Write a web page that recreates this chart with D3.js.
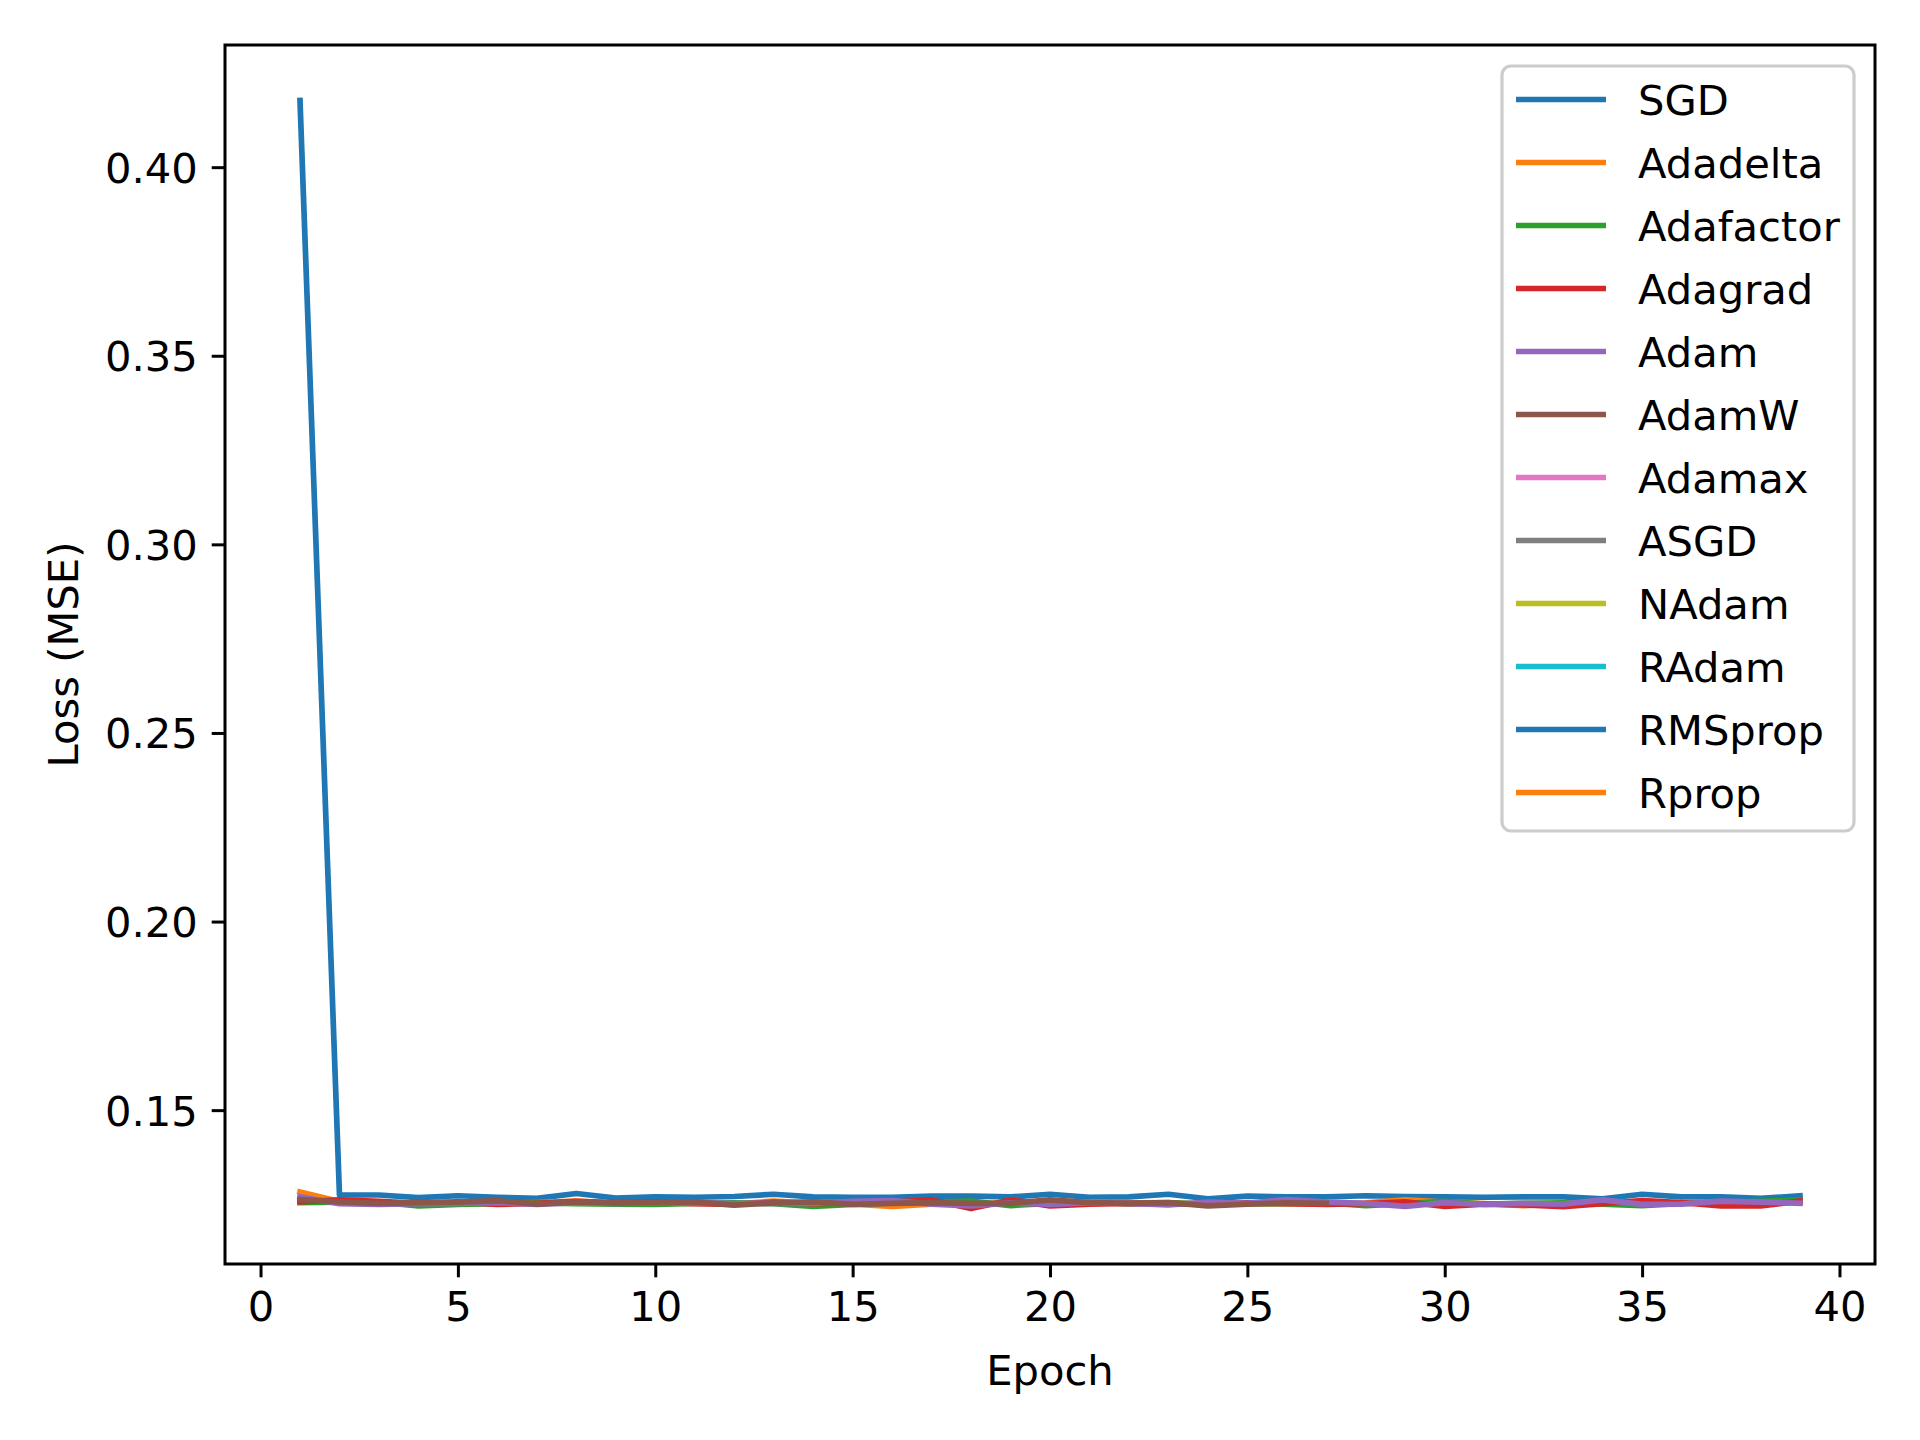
<!DOCTYPE html>
<html>
<head>
<meta charset="utf-8">
<script src="https://cdn.jsdelivr.net/npm/d3@7"></script>
<style>
  html, body { margin: 0; padding: 0; background: #fff; }
  svg { display: block; }
  text { font-family: "DejaVu Sans", sans-serif; fill: #000; }
</style>
</head>
<body>
<svg id="chart" width="1920" height="1440"></svg>
<script>
// ---- data ----
const names = ["SGD", "Adadelta", "Adafactor", "Adagrad", "Adam", "AdamW",
               "Adamax", "ASGD", "NAdam", "RAdam", "RMSprop", "Rprop"];
const colors = ["#1f77b4", "#ff7f0e", "#2ca02c", "#d62728", "#9467bd", "#8c564b",
                "#e377c2", "#7f7f7f", "#bcbd22", "#17becf", "#1f77b4", "#ff7f0e"];

const sgd = [0.4177, 0.1275, 0.1275, 0.1268, 0.1273, 0.1269, 0.1266, 0.1279, 0.1267, 0.1270,
             0.1269, 0.1271, 0.1277, 0.1270, 0.1269, 0.1269, 0.1272, 0.1272, 0.1270, 0.1277,
             0.1269, 0.1270, 0.1277, 0.1265, 0.1272, 0.1270, 0.1270, 0.1273, 0.1271, 0.1270,
             0.1269, 0.1270, 0.1270, 0.1265, 0.1277, 0.1270, 0.1270, 0.1266, 0.1273];
const adadelta = [0.1283, 0.1258, 0.1255, 0.1253, 0.1254, 0.1253, 0.1255, 0.1259, 0.1253, 0.1252,
                  0.1254, 0.1251, 0.1259, 0.1253, 0.1251, 0.1245, 0.1251, 0.1253, 0.1252, 0.1258,
                  0.1256, 0.1254, 0.1255, 0.1250, 0.1252, 0.1253, 0.1251, 0.1254, 0.1262, 0.1256,
                  0.1252, 0.1247, 0.1253, 0.1254, 0.1252, 0.1255, 0.1253, 0.1254, 0.1256];
const adafactor = [0.1255, 0.1256, 0.1256, 0.1246, 0.1250, 0.1252, 0.1254, 0.1252, 0.1251, 0.1250,
                   0.1253, 0.1254, 0.1252, 0.1245, 0.1250, 0.1254, 0.1256, 0.1259, 0.1247, 0.1253,
                   0.1255, 0.1252, 0.1254, 0.1251, 0.1253, 0.1252, 0.1254, 0.1247, 0.1252, 0.1258,
                   0.1251, 0.1253, 0.1254, 0.1251, 0.1247, 0.1253, 0.1255, 0.1258, 0.1262];
const adagrad = [0.1257, 0.1262, 0.1258, 0.1253, 0.1257, 0.1250, 0.1253, 0.1258, 0.1254, 0.1256,
                 0.1252, 0.1250, 0.1256, 0.1252, 0.1254, 0.1256, 0.1262, 0.1239, 0.1262, 0.1246,
                 0.1251, 0.1253, 0.1252, 0.1250, 0.1254, 0.1252, 0.1250, 0.1252, 0.1257, 0.1245,
                 0.1251, 0.1249, 0.1244, 0.1252, 0.1260, 0.1255, 0.1246, 0.1246, 0.1259];
const adam = [0.1270, 0.1252, 0.1250, 0.1252, 0.1253, 0.1255, 0.1250, 0.1255, 0.1253, 0.1254,
              0.1255, 0.1252, 0.1253, 0.1253, 0.1258, 0.1260, 0.1251, 0.1246, 0.1254, 0.1250,
              0.1255, 0.1253, 0.1249, 0.1256, 0.1253, 0.1263, 0.1256, 0.1253, 0.1245, 0.1255,
              0.1250, 0.1253, 0.1251, 0.1262, 0.1250, 0.1251, 0.1259, 0.1256, 0.1253];
const adamw = [0.1263, 0.1257, 0.1253, 0.1255, 0.1256, 0.1260, 0.1251, 0.1257, 0.1254, 0.1255,
               0.1257, 0.1248, 0.1254, 0.1257, 0.1250, 0.1253, 0.1255, 0.1253, 0.1253, 0.1262,
               0.1255, 0.1253, 0.1255, 0.1246, 0.1251, 0.1254, 0.1253];
const adamax = [], asgd = [], nadam = [], radam = [], rmsprop = [], rprop = [];

const seriesValues = [sgd, adadelta, adafactor, adagrad, adam, adamw,
                      adamax, asgd, nadam, radam, rmsprop, rprop];
const xTicks = [0, 5, 10, 15, 20, 25, 30, 35, 40];
const yTicks = [0.15, 0.20, 0.25, 0.30, 0.35, 0.40];
const xLabel = "Epoch";
const yLabel = "Loss (MSE)";

// ---- layout ----
const L = 225, R = 1875, T = 45, B = 1264;
const svg = d3.select("#chart");

const allPts = seriesValues.flatMap(s => s.map((v, i) => ({x: i + 1, y: v})));
const xExt = d3.extent(allPts, d => d.x), yExt = d3.extent(allPts, d => d.y);
const xm = (xExt[1] - xExt[0]) * 0.05, ym = (yExt[1] - yExt[0]) * 0.05;
const x = d3.scaleLinear().domain([xExt[0] - xm, xExt[1] + xm]).range([L, R]);
const y = d3.scaleLinear().domain([yExt[0] - ym, yExt[1] + ym]).range([B, T]);

svg.append("defs").append("clipPath").attr("id", "clip")
  .append("rect").attr("x", L).attr("y", T).attr("width", R - L).attr("height", B - T);

// lines
const line = d3.line().x((d, i) => x(i + 1)).y(d => y(d));
const gLines = svg.append("g").attr("clip-path", "url(#clip)");
seriesValues.forEach((s, k) => {
  if (!s.length) return;
  gLines.append("path")
    .attr("d", line(s))
    .attr("fill", "none")
    .attr("stroke", colors[k])
    .attr("stroke-width", 5.7)
    .attr("stroke-linejoin", "round")
    .attr("stroke-linecap", "square");
});

// axes
const FS = 41.67;
const xAxis = d3.axisBottom(x).tickValues(xTicks).tickFormat(d3.format("d"))
  .tickSize(13.3).tickPadding(12);
const yAxis = d3.axisLeft(y).tickValues(yTicks).tickFormat(d3.format(".2f"))
  .tickSize(13.3).tickPadding(14);

const gx = svg.append("g").attr("transform", `translate(0,${B})`).call(xAxis);
const gy = svg.append("g").attr("transform", `translate(${L},0)`).call(yAxis);
[gx, gy].forEach(g => {
  g.select(".domain").remove();
  g.selectAll(".tick line").attr("stroke", "#000").attr("stroke-width", 3);
  g.selectAll(".tick text").attr("font-size", FS).attr("font-family", "DejaVu Sans").attr("fill", "#000");
});
gx.selectAll(".tick text").attr("dy", "0.76em");
gy.selectAll(".tick text").attr("dy", "0.36em");

// frame
svg.append("rect").attr("x", L).attr("y", T).attr("width", R - L).attr("height", B - T)
  .attr("fill", "none").attr("stroke", "#000").attr("stroke-width", 3);

// labels
svg.append("text").attr("x", (L + R) / 2).attr("y", 1385)
  .attr("text-anchor", "middle").attr("font-size", FS).text(xLabel);
svg.append("text").attr("transform", `translate(78,${(T + B) / 2}) rotate(-90)`)
  .attr("text-anchor", "middle").attr("font-size", FS).text(yLabel);

// legend
const lg = svg.append("g");
lg.append("rect").attr("x", 1502).attr("y", 66).attr("width", 352).attr("height", 765)
  .attr("rx", 9).attr("ry", 9)
  .attr("fill", "rgba(255,255,255,0.8)").attr("stroke", "#cccccc").attr("stroke-width", 3.2);
names.forEach((n, i) => {
  const cy = 99.5 + 63 * i;
  lg.append("line").attr("x1", 1516).attr("x2", 1606).attr("y1", cy).attr("y2", cy)
    .attr("stroke", colors[i]).attr("stroke-width", 5.7);
  lg.append("text").attr("x", 1638).attr("y", cy + 15.2).attr("font-size", FS).text(n);
});
</script>
</body>
</html>
